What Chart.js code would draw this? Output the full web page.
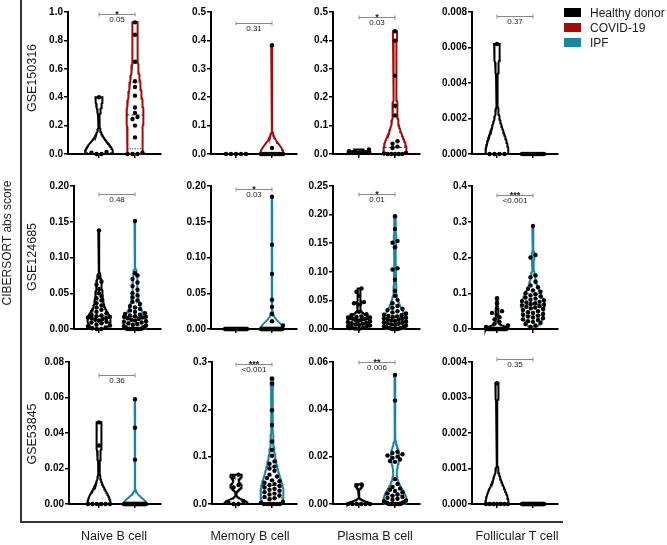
<!DOCTYPE html>
<html><head><meta charset="utf-8">
<script src="https://cdn.jsdelivr.net/npm/chart.js@4.4.1/dist/chart.umd.min.js"></script>
<style>
html,body{margin:0;padding:0;background:#fff;}
#wrap{position:relative;width:667px;height:545px;overflow:hidden;font-family:'Liberation Sans',Arial,sans-serif;color:#1a1a1a;}
.abs{position:absolute;white-space:nowrap;line-height:1;}
.rot{transform:translate(-50%,-50%) rotate(-90deg);}
.ctr{transform:translate(-50%,-50%);}
canvas{position:absolute;}
</style></head><body><div id="wrap"></div>
<script>
// ---------- DATA ----------
const categories = ['Naive B cell', 'Memory B cell', 'Plasma B cell', 'Follicular T cell'];
const cohorts = ['GSE150316', 'GSE124685', 'GSE53845'];
const groups = ['Healthy donor', 'COVID-19', 'IPF'];
const yAxisTitle = 'CIBERSORT abs score';

// y-axis tick definitions per panel (row by row)
const yMax = [1.0, 0.5, 0.5, 0.008, 0.20, 0.20, 0.25, 0.4, 0.08, 0.3, 0.06, 0.004];
const yStep = [0.2, 0.1, 0.1, 0.002, 0.05, 0.05, 0.05, 0.1, 0.02, 0.1, 0.02, 0.001];
const yDecimals = [1, 1, 1, 3, 2, 2, 2, 1, 2, 1, 2, 3];
const stars = ['*', '', '*', '', '', '*', '*', '***', '', '***', '**', ''];
const pValues = ['0.05', '0.31', '0.03', '0.37', '0.48', '0.03', '0.01', '<0.001', '0.36', '<0.001', '0.006', '0.35'];

// GSE150316 (Healthy donor vs COVID-19)
const hd150316Naive = [0.40, 0.000, 0.014, 0.000, 0.009];
const cov150316Naive = [0.927, 0.840, 0.650, 0.512, 0.472, 0.411, 0.327, 0.289, 0.261, 0.246, 0.200, 0.117, 0.010, 0.000, 0.000, 0.000];
const hd150316Memory = [0, 0, 0, 0, 0];
const cov150316Memory = [0.383, 0.021, 0, 0, 0, 0, 0, 0, 0, 0, 0, 0, 0, 0, 0, 0];
const hd150316Plasma = [0.016, 0.008, 0.006, 0.010, 0.005];
const cov150316Plasma = [0.432, 0.399, 0.276, 0.170, 0.136, 0.045, 0.036, 0.026, 0.021, 0.004, 0.002, 0, 0, 0, 0, 0];
const hd150316Tfh = [0.0062, 0, 0, 0, 0];
const cov150316Tfh = [0, 0, 0, 0, 0, 0, 0, 0, 0, 0, 0, 0, 0, 0, 0, 0];

// GSE124685 (Healthy donor vs IPF)
const hd124685Naive = [0.138, 0.072, 0.066, 0.062, 0.056, 0.050, 0.046, 0.043, 0.040, 0.036, 0.033, 0.030, 0.027, 0.024, 0.022, 0.020, 0.019, 0.018, 0.017, 0.016, 0.015, 0.015, 0.014, 0.013, 0.012, 0.010, 0.009, 0.008, 0.006, 0.005, 0.004, 0.002, 0.001, 0.000, 0.000];
const ipf124685Naive = [0.151, 0.078, 0.075, 0.070, 0.065, 0.060, 0.055, 0.050, 0.047, 0.044, 0.040, 0.038, 0.035, 0.032, 0.030, 0.028, 0.026, 0.024, 0.022, 0.021, 0.020, 0.019, 0.018, 0.017, 0.017, 0.016, 0.015, 0.014, 0.013, 0.012, 0.011, 0.010, 0.009, 0.008, 0.007, 0.006, 0.005, 0.004, 0.003, 0.002, 0.001, 0, 0, 0, 0, 0, 0, 0, 0];
const hd124685Memory = [0, 0, 0, 0, 0, 0, 0, 0, 0, 0, 0, 0, 0, 0, 0, 0, 0, 0, 0, 0, 0, 0, 0, 0, 0, 0, 0, 0, 0, 0, 0, 0, 0, 0, 0];
const ipf124685Memory = [0.185, 0.118, 0.077, 0.041, 0.031, 0.021, 0.011, 0.005, 0, 0, 0, 0, 0, 0, 0, 0, 0, 0, 0, 0, 0, 0, 0, 0, 0, 0, 0, 0, 0, 0, 0, 0, 0, 0, 0, 0, 0, 0, 0, 0, 0, 0, 0, 0, 0, 0, 0, 0, 0];
const hd124685Plasma = [0.071, 0.065, 0.058, 0.047, 0.045, 0.043, 0.030, 0.026, 0.024, 0.022, 0.021, 0.020, 0.020, 0.019, 0.019, 0.018, 0.018, 0.017, 0.016, 0.015, 0.014, 0.013, 0.012, 0.011, 0.010, 0.009, 0.008, 0.007, 0.006, 0.005, 0.004, 0.003, 0.002, 0.001, 0.000];
const ipf124685Plasma = [0.197, 0.175, 0.154, 0.151, 0.143, 0.106, 0.104, 0.086, 0.067, 0.058, 0.051, 0.045, 0.040, 0.037, 0.035, 0.033, 0.031, 0.029, 0.027, 0.025, 0.024, 0.023, 0.022, 0.021, 0.020, 0.019, 0.018, 0.017, 0.016, 0.015, 0.014, 0.013, 0.012, 0.011, 0.010, 0.009, 0.008, 0.007, 0.006, 0.005, 0.004, 0.003, 0.002, 0.002, 0.001, 0.001, 0, 0, 0];
const hd124685Tfh = [0.086, 0.072, 0.058, 0.050, 0.045, 0.040, 0.033, 0.027, 0.020, 0.015, 0.010, 0.006, 0.003, 0, 0, 0, 0, 0, 0, 0, 0, 0, 0, 0, 0, 0, 0, 0, 0, 0, 0, 0, 0, 0, 0];
const ipf124685Tfh = [0.288, 0.207, 0.200, 0.150, 0.145, 0.132, 0.122, 0.117, 0.112, 0.108, 0.104, 0.100, 0.097, 0.094, 0.091, 0.088, 0.085, 0.082, 0.080, 0.078, 0.076, 0.074, 0.072, 0.070, 0.068, 0.066, 0.064, 0.062, 0.060, 0.058, 0.056, 0.053, 0.050, 0.047, 0.045, 0.042, 0.040, 0.037, 0.035, 0.032, 0.030, 0.027, 0.025, 0.022, 0.020, 0.017, 0.014, 0.010, 0.006];

// GSE53845 (Healthy donor vs IPF)
const hd53845Naive = [0.046, 0.033, 0, 0, 0, 0, 0, 0];
const ipf53845Naive = [0.059, 0.043, 0.025, 0, 0, 0, 0, 0, 0, 0, 0, 0, 0, 0, 0, 0, 0, 0, 0, 0, 0, 0, 0, 0, 0, 0, 0, 0, 0, 0, 0, 0, 0, 0, 0, 0, 0, 0, 0, 0];
const hd53845Memory = [0.062, 0.057, 0.040, 0.035, 0.006, 0.003, 0.000, 0.000];
const ipf53845Memory = [0.265, 0.254, 0.198, 0.167, 0.132, 0.114, 0.102, 0.090, 0.085, 0.079, 0.075, 0.070, 0.062, 0.058, 0.055, 0.050, 0.048, 0.045, 0.042, 0.040, 0.038, 0.035, 0.032, 0.030, 0.028, 0.025, 0.022, 0.020, 0.018, 0.015, 0.012, 0.010, 0.005, 0.003, 0, 0, 0, 0, 0, 0];
const hd53845Plasma = [0.0083, 0.0077, 0, 0, 0, 0, 0, 0];
const ipf53845Plasma = [0.0545, 0.0437, 0.0221, 0.0215, 0.0210, 0.0205, 0.0200, 0.0195, 0.0188, 0.0182, 0.0178, 0.0105, 0.0085, 0.0072, 0.0065, 0.0060, 0.0055, 0.0050, 0.0045, 0.0040, 0.0035, 0.0030, 0.0026, 0.0022, 0.0018, 0.0015, 0.0012, 0.0010, 0.0008, 0.0006, 0.0004, 0.0002, 0, 0, 0, 0, 0, 0, 0, 0];
const hd53845Tfh = [0.0034, 0, 0, 0, 0, 0, 0, 0];
const ipf53845Tfh = [0, 0, 0, 0, 0, 0, 0, 0, 0, 0, 0, 0, 0, 0, 0, 0, 0, 0, 0, 0, 0, 0, 0, 0, 0, 0, 0, 0, 0, 0, 0, 0, 0, 0, 0, 0, 0, 0, 0, 0];

const panelSeries = [
  [hd150316Naive, cov150316Naive], [hd150316Memory, cov150316Memory], [hd150316Plasma, cov150316Plasma], [hd150316Tfh, cov150316Tfh],
  [hd124685Naive, ipf124685Naive], [hd124685Memory, ipf124685Memory], [hd124685Plasma, ipf124685Plasma], [hd124685Tfh, ipf124685Tfh],
  [hd53845Naive, ipf53845Naive], [hd53845Memory, ipf53845Memory], [hd53845Plasma, ipf53845Plasma], [hd53845Tfh, ipf53845Tfh]
];

// ---------- STYLE / LAYOUT ----------
const groupColors = ['#000000', '#A50A0A', '#1A86A0'];
const FONT = "'Liberation Sans', Arial, sans-serif";
const rowTop = [12, 186, 362], rowBottom = [154, 329, 504];
const axisLeft = [68, 211, 333, 472, 74, 211, 333, 472, 69, 212, 333, 472];
const axisRight = [161, 297, 420, 558];
const catPx = [[99, 135], [236, 272], [359, 395], [497, 533]];
const bracketOffset = [2, 11, 5, 4, 8, 3, 8, 9, 13, 2, 0, -3];
const violinHalf = [[14, 8.5], [11.5, 11.5], [11.5, 11.5], [11.5, 11.5], [11.5, 11.5], [11.5, 11.5], [11.5, 11.5], [11.5, 11.5], [11.5, 11.5], [11.5, 11.5], [11.5, 11.5], [11.5, 11.5]];
const bwFactor = [[0.55, 0.55], [0.55, 0.55], [0.55, 0.55], [0.55, 0.55], [0.55, 0.55], [0.55, 0.55], [0.55, 0.55], [0.55, 0.55], [0.55, 0.55], [0.32, 0.55], [0.4, 0.55], [0.55, 0.55]];
const YW = 50, PT = 16, PR = 8, XB = 8;
const SP = 5, BIN = 4, SWARM_HALF = 11;

Chart.defaults.font.family = FONT;

function swarm(vals, cx, ppuX, ppuY) {
  const s = vals.slice().sort((a, b) => a - b);
  const pts = []; let row = []; let start = null;
  const flush = () => {
    const k = row.length; if (!k) return;
    const sp = k > 1 ? Math.min(SP, 2 * SWARM_HALF / (k - 1)) : 0;
    const slots = [];
    for (let i = 0; i < k; i++) slots.push((i - (k - 1) / 2) * sp);
    slots.sort((a, b) => Math.abs(a) - Math.abs(b));
    row.forEach((v, i) => pts.push({ x: cx + slots[i] / ppuX, y: v }));
    row = [];
  };
  for (const v of s) {
    if (start === null || (v - start) * ppuY > BIN) { flush(); start = v; }
    row.push(v);
  }
  flush();
  return pts;
}

function quant(s, p) { // Prism-style (n+1)p
  const n = s.length; let pos = (n + 1) * p; if (pos < 1) pos = 1; if (pos > n) pos = n;
  const lo = Math.floor(pos), hi = Math.ceil(pos);
  return s[lo - 1] + (s[hi - 1] - s[lo - 1]) * (pos - lo);
}

function violin(vals, cx, ppuX, halfPx, bw) {
  const s = vals.slice().sort((a, b) => a - b);
  const n = s.length, mn = s[0], mx = s[n - 1];
  if (mx - mn <= 0) return null;
  const mean = s.reduce((a, b) => a + b, 0) / n;
  const sd = Math.sqrt(s.reduce((a, b) => a + (b - mean) * (b - mean), 0) / (n - 1));
  const h = bw * 1.06 * sd * Math.pow(n, -0.2);
  const dens = y => s.reduce((a, v) => a + Math.exp(-0.5 * ((y - v) / h) * ((y - v) / h)), 0);
  const N = 90, ys = [], ds = [];
  for (let i = 0; i <= N; i++) { const y = mn + (mx - mn) * i / N; ys.push(y); ds.push(dens(y)); }
  const dmax = Math.max(...ds);
  const hw = y => halfPx * dens(y) / dmax / ppuX;
  const right = ys.map((y, i) => ({ x: cx + halfPx * ds[i] / dmax / ppuX, y }));
  const left = ys.map((y, i) => ({ x: cx - halfPx * ds[i] / dmax / ppuX, y })).reverse();
  const poly = right.concat(left); poly.push(right[0]);
  return { poly, hw, med: quant(s, 0.5), q1: quant(s, 0.25), q3: quant(s, 0.75) };
}

const wrap = document.getElementById('wrap');
function addText(txt, x, y, size, cls, extra) {
  const d = document.createElement('div');
  d.className = 'abs ' + cls; d.textContent = txt;
  d.style.left = x + 'px'; d.style.top = y + 'px'; d.style.fontSize = size + 'px';
  if (extra) Object.assign(d.style, extra);
  wrap.appendChild(d); return d;
}

for (let p = 0; p < 12; p++) {
  const r = Math.floor(p / 4), c = p % 4;
  const top = rowTop[r], bot = rowBottom[r], left = axisLeft[p], right = axisRight[c];
  const cw = YW + (right - left) + PR, ch = PT + (bot - top) + XB;
  const cv = document.createElement('canvas');
  cv.width = cw; cv.height = ch;
  cv.style.left = (left - YW) + 'px'; cv.style.top = (top - PT) + 'px';
  cv.style.width = cw + 'px'; cv.style.height = ch + 'px';
  wrap.appendChild(cv);
  const ppuX = catPx[c][1] - catPx[c][0];
  const xmin = 1 - (catPx[c][0] - left) / ppuX, xmax = 2 + (right - catPx[c][1]) / ppuX;
  const ppuY = (bot - top) / yMax[p];
  const cols = [groupColors[0], groupColors[r === 0 ? 1 : 2]];
  const datasets = [];
  panelSeries[p].forEach((vals, g) => {
    const cx = g + 1;
    datasets.push({ data: swarm(vals, cx, ppuX, ppuY), pointRadius: 2.2, pointHoverRadius: 2.2, pointBackgroundColor: '#000', pointBorderWidth: 0, showLine: false, order: 0, clip: false });
    const v = violin(vals, cx, ppuX, violinHalf[p][g], bwFactor[p][g]);
    if (v) {
      datasets.push({ data: v.poly, showLine: true, pointRadius: 0, borderColor: cols[g], borderWidth: 2, fill: false, tension: 0, order: 3, clip: false });
      [[v.med, [3, 2]], [v.q1, [1, 1.5]], [v.q3, [1, 1.5]]].forEach(([q, dash]) => {
        const w = v.hw(q);
        datasets.push({ data: [{ x: cx - w, y: q }, { x: cx + w, y: q }], showLine: true, pointRadius: 0, borderColor: '#222', borderWidth: 1, borderDash: dash, order: 2, clip: false });
      });
    }
  });
  const bracketPlugin = {
    id: 'bracket' + p,
    afterDatasetsDraw(chart) {
      const ctx = chart.ctx, xs = chart.scales.x;
      const x1 = xs.getPixelForValue(1), x2 = xs.getPixelForValue(2);
      const y = Math.round(chart.chartArea.top + bracketOffset[p]) + 0.5;
      ctx.save();
      ctx.strokeStyle = '#8a8a8a'; ctx.lineWidth = 1;
      ctx.beginPath();
      ctx.moveTo(x1, y); ctx.lineTo(x2, y);
      ctx.moveTo(x1, y - 2); ctx.lineTo(x1, y + 2);
      ctx.moveTo(x2, y - 2); ctx.lineTo(x2, y + 2);
      ctx.stroke();
      ctx.fillStyle = '#1a1a1a'; ctx.textAlign = 'center';
      if (stars[p]) { ctx.font = 'bold 9px ' + FONT; ctx.textBaseline = 'alphabetic'; ctx.fillText(stars[p], (x1 + x2) / 2, y + 2); }
      ctx.font = '8px ' + FONT; ctx.textBaseline = 'middle'; ctx.fillText(pValues[p], (x1 + x2) / 2, y + 5);
      ctx.restore();
    }
  };
  new Chart(cv, {
    type: 'scatter',
    data: { datasets },
    options: {
      responsive: false, animation: false, events: [], devicePixelRatio: 1,
      layout: { padding: { top: PT, right: PR, left: 0, bottom: 0 } },
      plugins: { legend: { display: false }, tooltip: { enabled: false } },
      scales: {
        x: {
          type: 'linear', min: xmin, max: xmax,
          grid: { display: true, drawOnChartArea: false, drawTicks: true, tickLength: 4, color: '#000', lineWidth: 1.5 },
          border: { display: true, color: '#000', width: 2 },
          ticks: { display: false },
          afterBuildTicks: s => { s.ticks = [{ value: 1 }, { value: 2 }]; },
          afterFit: s => { s.height = XB; }
        },
        y: {
          type: 'linear', min: 0, max: yMax[p],
          grid: { display: true, drawOnChartArea: false, drawTicks: true, tickLength: 4, color: '#000', lineWidth: 1.5 },
          border: { display: true, color: '#000', width: 2 },
          ticks: { color: '#000', padding: 1, font: { size: 10, weight: 'bold', family: FONT }, callback: v => Number(v).toFixed(yDecimals[p]) },
          afterBuildTicks: s => { const t = []; const n = Math.round(yMax[p] / yStep[p]); for (let i = 0; i <= n; i++) t.push({ value: +(i * yStep[p]).toFixed(6) }); s.ticks = t; },
          afterFit: s => { s.width = YW; }
        }
      }
    },
    plugins: [bracketPlugin]
  });
}

// frame lines
const vline = document.createElement('div');
Object.assign(vline.style, { position: 'absolute', left: '20px', top: '0px', width: '2px', height: '522px', background: '#333' });
wrap.appendChild(vline);
const hline = document.createElement('div');
Object.assign(hline.style, { position: 'absolute', left: '20px', top: '521px', width: '543px', height: '1.5px', background: '#333' });
wrap.appendChild(hline);

// labels
addText(yAxisTitle, 7, 243, 12, 'rot');
const rowLabelY = [78, 257, 434];
cohorts.forEach((t, i) => addText(t, 32, rowLabelY[i], 12.5, 'rot'));
const colLabelX = [114, 250, 375, 517];
categories.forEach((t, i) => addText(t, colLabelX[i], 536, 12.5, 'ctr'));

// legend
groups.forEach((g, i) => {
  const sq = document.createElement('div');
  Object.assign(sq.style, { position: 'absolute', left: '564px', top: (8 + 15 * i) + 'px', width: '17px', height: '9px', background: groupColors[i] });
  wrap.appendChild(sq);
  addText(g, 590, 12.5 + 15 * i, 12, '', { transform: 'translateY(-50%)' });
});
</script></body></html>
